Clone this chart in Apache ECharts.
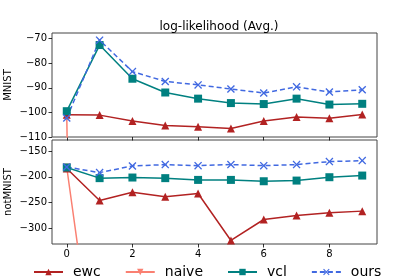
<!DOCTYPE html>
<html><head><meta charset="utf-8">
<script src="https://cdn.jsdelivr.net/npm/echarts@6/dist/echarts.min.js"></script>
<style>html,body{margin:0;padding:0;background:#fff}#c{width:419px;height:279px}</style>
</head><body><div id="c"></div>
<script>
var steps = [0,1,2,3,4,5,6,7,8,9];
var xTicks = [0,2,4,6,8];
var mnistTicks = [-110,-100,-90,-80,-70];
var notmnistTicks = [-300,-250,-200,-150];
var seriesNames = ['ewc','naive','vcl','ours'];

var mnistEwc   = [-100.9,-101.1,-103.5,-105.3,-105.8,-106.5,-103.5,-101.9,-102.4,-100.8];
var mnistNaive = [-101.8,-900,-950,-980,-1000,-1000,-1000,-1000,-1000,-1000];
var mnistVcl   = [-99.5,-72.6,-86.3,-91.9,-94.4,-96.2,-96.6,-94.4,-96.8,-96.5];
var mnistOurs  = [-102.3,-70.6,-83.4,-87.4,-88.8,-90.5,-92.1,-89.6,-91.7,-90.8];

var notEwc   = [-184,-245.9,-229.7,-238.8,-232.4,-323.2,-282.6,-274.9,-269.7,-266.4];
var notNaive = [-182,-640,-700,-720,-740,-750,-750,-750,-750,-750];
var notVcl   = [-182,-202.6,-201.4,-202.6,-206,-206,-208.6,-207.3,-200.8,-197.6];
var notOurs  = [-181,-191.9,-179,-176.4,-178.4,-176.4,-178.4,-176.4,-170.6,-168.7];

function pts(v){ return steps.map(function(x,i){ return [x, v[i]]; }); }
var FONT = 'DejaVu Sans';
var colors = {ewc:'#b22222', naive:'#fa8072', vcl:'#008080', ours:'#4169e1'};
var xPath = 'path://M0,1.2L1.2,0L5,3.8L8.8,0L10,1.2L6.2,5L10,8.8L8.8,10L5,6.2L1.2,10L0,8.8L3.8,5Z';
var symbols = {ewc:'triangle', naive:'path://M0,0L10,0L5,9Z', vcl:'rect', ours:xPath};
var sizes = {ewc:8, naive:8, vcl:8, ours:8};
function fmt(v){ return String(v).replace('-', '\u2212'); }

function mk(name, data, idx){
  return {
    name: name, type:'line', xAxisIndex: idx, yAxisIndex: idx,
    data: pts(data), symbol: symbols[name], symbolSize: sizes[name],
    showAllSymbol: true, clip: true,
    lineStyle: {color: colors[name], width: 1.5, type: name==='ours' ? [5,3] : 'solid'},
    itemStyle: {color: colors[name]},
    z: name==='naive' ? 1 : 2
  };
}
function yAx(idx, min, max, ticks, label){
  return {
    type:'value', gridIndex: idx, min: min, max: max, position:'left',
    name: label, nameLocation:'middle', nameGap: 39, nameRotate: 90, nameMoveOverlap: false,
    nameTextStyle: {fontFamily: FONT, fontSize: 10, color:'#000'},
    axisLine: {show:false, onZero:false},
    axisTick: {show:true, inside:false, customValues: ticks, length: 3.5, lineStyle:{color:'#000', width: 0.8}},
    axisLabel: {show:true, customValues: ticks, formatter: fmt, fontFamily: FONT, fontSize: 10, color:'#000', margin: 5},
    splitLine: {show:false}
  };
}
function xAx(idx, showLabel){
  return {
    type:'value', gridIndex: idx, min: -0.45, max: 9.45, position:'bottom',
    axisLine: {show:false, onZero:false},
    axisTick: {show:true, inside:false, customValues: xTicks, length: 3.5, lineStyle:{color:'#000', width: 0.8}},
    axisLabel: {show: showLabel, customValues: xTicks, fontFamily: FONT, fontSize: 10, color:'#000', margin: 5},
    splitLine: {show:false}
  };
}

var chart = echarts.init(document.getElementById('c'), null, {renderer:'canvas'});
chart.setOption({
  animation: false,
  backgroundColor: '#fff',
  title: {text: 'log-likelihood (Avg.)', left: 214, top: 16, textAlign: 'center',
    textStyle: {fontFamily: FONT, fontSize: 12, fontWeight: 'normal', color:'#000'}},
  legend: {
    data: seriesNames, left: 28, top: 260, itemWidth: 29, itemHeight: 8, itemGap: 24,
    textStyle: {fontFamily: FONT, fontSize: 14, color:'#000', padding:[0,0,0,5]}
  },
  grid: [
    {left: 52, top: 33, width: 325, height: 104, show: true, borderColor:'#444', borderWidth: 1, backgroundColor:'transparent', containLabel:false, outerBoundsMode:'none'},
    {left: 52, top: 140, width: 325, height: 104, show: true, borderColor:'#444', borderWidth: 1, backgroundColor:'transparent', containLabel:false, outerBoundsMode:'none'}
  ],
  xAxis: [xAx(0,false), xAx(1,true)],
  yAxis: [yAx(0, -110, -67.7, mnistTicks, 'MNIST'), yAx(1, -330, -128.8, notmnistTicks, 'notMNIST')],
  series: [
    mk('ewc', mnistEwc, 0), mk('naive', mnistNaive, 0), mk('vcl', mnistVcl, 0), mk('ours', mnistOurs, 0),
    mk('ewc', notEwc, 1), mk('naive', notNaive, 1), mk('vcl', notVcl, 1), mk('ours', notOurs, 1)
  ]
});
</script></body></html>
